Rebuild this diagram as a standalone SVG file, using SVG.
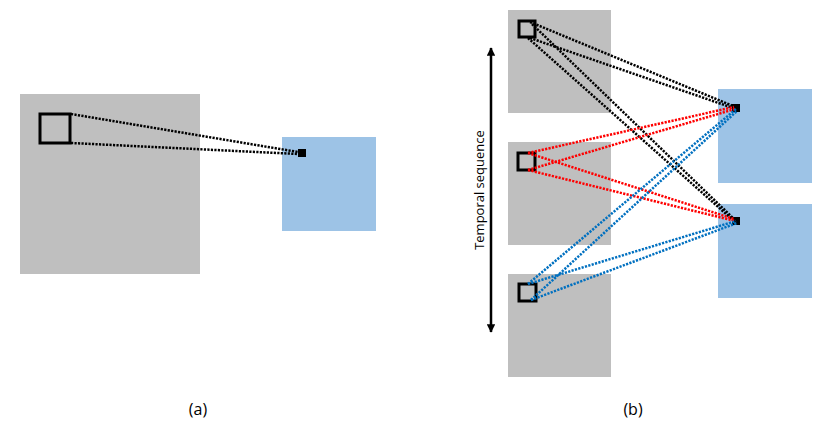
<svg xmlns="http://www.w3.org/2000/svg" width="830" height="434" viewBox="0 0 830 434">
<style>
.gray{fill:#BFBFBF}
.blue{fill:#9DC3E6}
.win{fill:none;stroke:#000;stroke-width:3}
.dot{fill:#000}
.c{fill:none;stroke-width:2.5;stroke-dasharray:2.2 1.3}
.k{stroke:#000}
.r{stroke:#FF0000}
.b{stroke:#0070C0}
.lbl{font-family:"Open Sans","Noto Sans",sans-serif;fill:#000}
</style>
<defs>
<marker id="ah" viewBox="0 0 10 10" refX="9" refY="5" markerWidth="3.4" markerHeight="3.4" orient="auto-start-reverse" markerUnits="strokeWidth">
<path d="M0,0 L10,5 L0,10 z" fill="#000"/>
</marker>
</defs>
<rect width="830" height="434" fill="#fff"/>
<!-- (a) -->
<g id="a-input"><rect class="gray" x="20" y="94" width="180" height="180"/><rect class="win" x="40" y="114" width="30" height="29"/></g>
<g id="a-output"><rect class="blue" x="282" y="137" width="94" height="94"/><rect class="dot" x="298" y="149" width="8" height="8"/></g>
<!-- (b) -->
<g id="b-frame1"><rect class="gray" x="508" y="10" width="103" height="103"/><rect class="win" x="519" y="21" width="16" height="16"/></g>
<g id="b-frame2"><rect class="gray" x="508" y="142" width="103" height="103"/><rect class="win" x="518" y="153" width="17" height="17"/></g>
<g id="b-frame3"><rect class="gray" x="508" y="274" width="103" height="103"/><rect class="win" x="519" y="284" width="17" height="17"/></g>
<g id="b-out1"><rect class="blue" x="718" y="89" width="94" height="94"/><rect class="dot" x="732" y="104" width="8" height="8"/></g>
<g id="b-out2"><rect class="blue" x="718" y="204" width="94" height="94"/><rect class="dot" x="732" y="217" width="8" height="8"/></g>
<g id="connectors">
<line class="c k" x1="71" y1="114" x2="298" y2="152"/>
<line class="c k" x1="71" y1="143" x2="298" y2="154"/>
<line class="c k" x1="530" y1="22" x2="733" y2="106"/>
<line class="c k" x1="530" y1="38" x2="733" y2="108"/>
<line class="c k" x1="532" y1="24" x2="734" y2="219"/>
<line class="c k" x1="528" y1="38" x2="734" y2="221"/>
<line class="c r" x1="528" y1="153" x2="734" y2="107"/>
<line class="c r" x1="528" y1="170" x2="735" y2="109"/>
<line class="c r" x1="528" y1="153" x2="734" y2="219"/>
<line class="c r" x1="528" y1="170" x2="735" y2="221"/>
<line class="c b" x1="528" y1="284" x2="736" y2="109"/>
<line class="c b" x1="531" y1="300" x2="737" y2="111"/>
<line class="c b" x1="528" y1="284" x2="736" y2="221"/>
<line class="c b" x1="531" y1="300" x2="737" y2="223"/>
<line x1="491" y1="48" x2="491" y2="332" stroke="#000" stroke-width="2.5" marker-start="url(#ah)" marker-end="url(#ah)"/>
</g>
<text class="lbl" x="0" y="0" font-size="13" text-anchor="middle" transform="translate(484,190) rotate(-90)">Temporal sequence</text>
<text class="lbl" x="198" y="415" font-size="16" text-anchor="middle">(a)</text>
<text class="lbl" x="633" y="415" font-size="16" text-anchor="middle">(b)</text>
</svg>
